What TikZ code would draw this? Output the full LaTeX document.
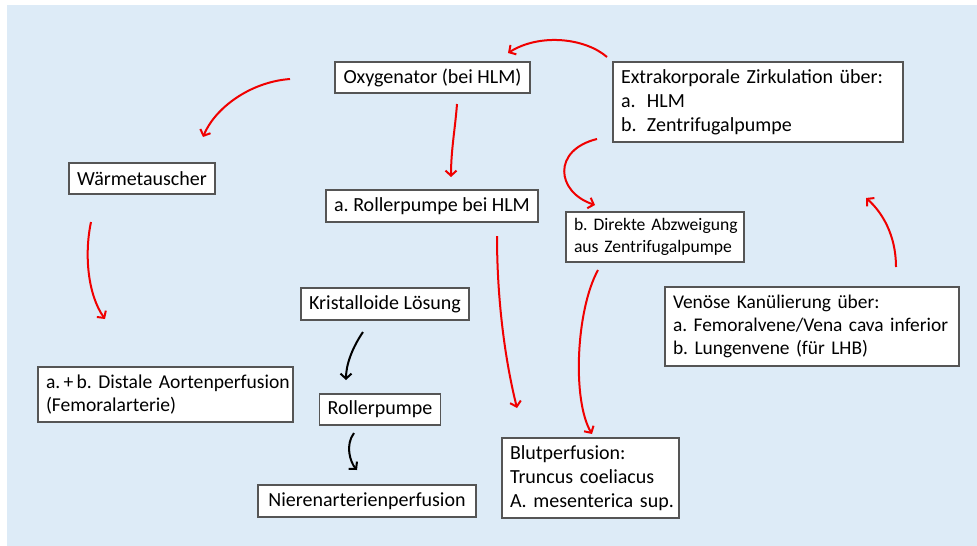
\documentclass[tikz,border=0pt]{standalone}
\usepackage{fontspec}
\setmainfont{Carlito}
\usetikzlibrary{arrows.meta}
\definecolor{bgblue}{HTML}{DDEBF7}
\definecolor{boxline}{HTML}{555555}
\definecolor{arrred}{HTML}{F00000}
\tikzset{
  boxnode/.style={draw=boxline, line width=1.1pt, fill=white, inner xsep=8pt, inner ysep=2pt,
    font=\fontsize{20}{24}\selectfont\frenchspacing},
  smallbox/.style={boxnode, font=\fontsize{17.6}{22}\selectfont\frenchspacing},
  leftbox/.style={align=left, text width=#1},
  redarrow/.style={draw=arrred, line width=2pt, -{Straight Barb[length=5pt,width=11pt]}},
  blackarrow/.style={draw=black, line width=2pt, -{Straight Barb[length=5pt,width=11pt]}}
}
\begin{document}
\frenchspacing
\begin{tikzpicture}[x=1pt,y=-1pt]
\useasboundingbox (0,0) rectangle (977,546);
\fill[white] (0,0) rectangle (977,546);
\fill[bgblue] (7,5) rectangle (977,546);

\node[boxnode, minimum width=195pt, minimum height=31pt] (oxy) at (432.5,77.5) {Oxygenator (bei HLM)};
\node[boxnode, minimum width=212pt, minimum height=32pt] (rollhlm) at (432,206) {a. Rollerpumpe bei HLM};
\node[boxnode, leftbox=274pt, minimum height=80pt] (extra) at (758,102)
  {\mbox{Extrakorporale Zirkulation über:}\\\mbox{\makebox[26pt][l]{a.}HLM}\\\mbox{\makebox[26pt][l]{b.}Zentrifugalpumpe}};
\node[smallbox, leftbox=162pt, minimum height=50pt] (direkt) at (655,237)
  {\mbox{b. Direkte Abzweigung}\\\mbox{aus Zentrifugalpumpe}};
\node[boxnode, minimum width=146pt, minimum height=31pt] (waerme) at (142,178.5) {Wärmetauscher};
\node[boxnode, leftbox=239pt, minimum height=55pt, font=\fontsize{19.6}{23}\selectfont\frenchspacing] (distal) at (165.5,394.5)
  {\mbox{a.\,+\,b. Distale Aortenperfusion}\\\mbox{(Femoralarterie)}};
\node[boxnode, minimum width=168pt, minimum height=32pt] (krist) at (385,304) {Kristalloide Lösung};
\node[boxnode, minimum width=120pt, minimum height=31pt] (roller) at (380,409.5) {Rollerpumpe};
\node[boxnode, minimum width=218pt, minimum height=32pt] (niere) at (367,501) {Nierenarterienperfusion};
\node[boxnode, leftbox=161pt, minimum height=80pt] (blut) at (590.5,478)
  {\mbox{Blutperfusion:}\\\mbox{Truncus coeliacus}\\\mbox{A. mesenterica sup.}};
\node[boxnode, leftbox=278pt, minimum height=79pt, font=\fontsize{19.4}{23}\selectfont\frenchspacing] (venoes) at (812,326.5)
  {\mbox{Venöse Kanülierung über:}\\\mbox{a. Femoralvene/Vena cava inferior}\\\mbox{b. Lungenvene (für LHB)}};

% free arrow ends
\coordinate (a1s) at (607,57);   \coordinate (a1e) at (508,53);
\coordinate (a2s) at (457,104);  \coordinate (a2e) at (451,177);
\coordinate (a3s) at (597,139);  \coordinate (a3e) at (595,205);
\coordinate (a4s) at (290,79);   \coordinate (a4e) at (203,137);
\coordinate (a5s) at (91,222);   \coordinate (a5e) at (105,319);
\coordinate (a6s) at (497,236);  \coordinate (a6e) at (517,408);
\coordinate (a7s) at (598,270);  \coordinate (a7e) at (592,434);
\coordinate (a8s) at (896,267);  \coordinate (a8e) at (866,198);
\coordinate (a9s) at (363,332);  \coordinate (a9e) at (346,380);
\coordinate (a10s) at (354,433); \coordinate (a10e) at (357,470);

\draw[redarrow] (a1s) .. controls (585,38) and (540,33) .. (a1e);
\draw[redarrow] (a2s) .. controls (455,130) and (451,150) .. (a2e);
\draw[redarrow] (a3s) .. controls (552,150) and (556,192) .. (a3e);
\draw[redarrow] (a4s) .. controls (250,82) and (215,108) .. (a4e);
\draw[redarrow] (a5s) .. controls (84,255) and (88,295) .. (a5e);
\draw[redarrow] (a6s) .. controls (497,300) and (505,360) .. (a6e);
\draw[redarrow] (a7s) .. controls (576,310) and (572,400) .. (a7e);
\draw[redarrow] (a8s) .. controls (896,235) and (882,212) .. (a8e);
\draw[blackarrow] (a9s) .. controls (352,348) and (346,365) .. (a9e);
\draw[blackarrow] (a10s) .. controls (345,445) and (350,462) .. (a10e);
\end{tikzpicture}
\end{document}
